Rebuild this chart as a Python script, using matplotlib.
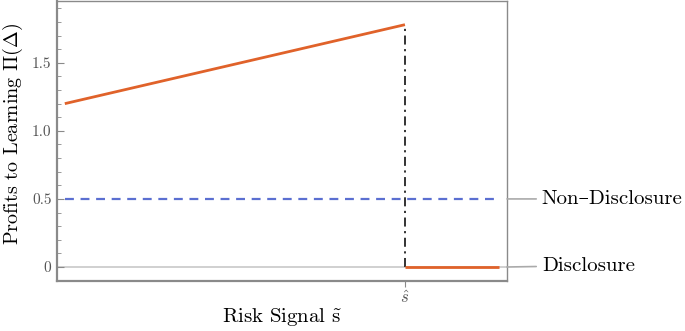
import matplotlib
matplotlib.use("Agg")
from matplotlib import pyplot as plt
import numpy as np

# values
s_hat = 0.783
learn_x = [0.0, s_hat]
learn_y = [1.2, 1.78]
disc_x = [s_hat, 1.0]
disc_y = [0.0, 0.0]
nondisc_x = [0.0, 1.0]
nondisc_y = [0.5, 0.5]
ytick_vals = [0, 0.5, 1.0, 1.5]
ytick_labels = ["0", "0.5", "1.0", "1.5"]

plt.rcParams["font.family"] = ["cmr10", "DejaVu Serif"]
plt.rcParams["mathtext.fontset"] = "cm"

orange = "#e0622a"
blue = "#5b6fd1"
frame_gray = "#8a8a8a"

fig = plt.figure(figsize=(6.85, 3.31), dpi=100)
ax = fig.add_axes([0.0832, 0.151, 0.657, 0.846])

ax.axhline(0, color="#c8c8c8", lw=1.2, zorder=1)
ax.plot(learn_x, learn_y, color=orange, lw=2, solid_capstyle="butt", zorder=3)
ax.plot(disc_x, disc_y, color=orange, lw=2, solid_capstyle="butt", zorder=3)
ax.plot(nondisc_x, nondisc_y, color=blue, lw=1.6, ls=(0, (4, 3)), zorder=2)
ax.plot([s_hat, s_hat], [0, learn_y[1]], color="#222222", lw=1.3,
        ls=(0, (5, 2.5, 1.2, 2.5)), zorder=2)

ax.set_xlim(-0.018, 1.018)
ax.set_ylim(-0.103, 1.954)

ax.set_yticks(ytick_vals)
ax.set_yticklabels(ytick_labels)
ax.set_yticks(np.arange(-0.1, 1.95, 0.1), minor=True)
ax.set_xticks([s_hat])
ax.set_xticklabels([r"$\hat{s}$"])
ax.tick_params(axis="y", which="major", direction="in", length=5, width=0.8,
               color=frame_gray, labelcolor="#555555", labelsize=11, pad=4)
ax.tick_params(axis="y", which="minor", direction="in", length=3, width=0.6,
               color=frame_gray)
ax.tick_params(axis="x", which="major", direction="out", length=4, width=0.8,
               color=frame_gray, labelcolor="#555555", labelsize=12, pad=2)

for side in ["left", "right", "top", "bottom"]:
    ax.spines[side].set_color(frame_gray)
    ax.spines[side].set_linewidth(1.0)
ax.spines["left"].set_linewidth(1.6)
ax.spines["bottom"].set_linewidth(1.6)

ax.set_xlabel(r"Risk Signal $\tilde{\mathrm{s}}$", fontsize=15, labelpad=0)
ax.set_ylabel(r"Profits to Learning $\Pi(\tilde{\Delta})$", fontsize=14.5)
ax.yaxis.set_label_coords(-0.07, 0.525)

# line labels to the right of the frame
ax.annotate("Non\u2013Disclosure", xy=(1.018, nondisc_y[0]), xycoords="data",
            xytext=(1.098, nondisc_y[0]), textcoords="data",
            fontsize=15, va="center", ha="left", annotation_clip=False,
            arrowprops=dict(arrowstyle="-", color="#aaaaaa", lw=1.2,
                            shrinkA=2, shrinkB=0))
ax.annotate("Disclosure", xy=(1.018, disc_y[0]), xycoords="data",
            xytext=(1.098, disc_y[0] + 0.01), textcoords="data",
            fontsize=15, va="center", ha="left", annotation_clip=False,
            arrowprops=dict(arrowstyle="-", color="#aaaaaa", lw=1.2,
                            shrinkA=2, shrinkB=0))

fig.savefig("out.png", dpi=100)
